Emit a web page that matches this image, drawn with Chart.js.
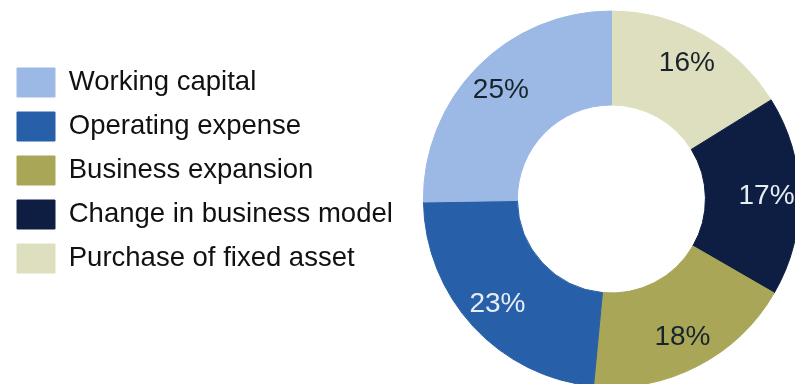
<!DOCTYPE html>
<html>
<head>
<meta charset="utf-8">
<title>Use of funds</title>
<script src="https://cdn.jsdelivr.net/npm/chart.js@4/dist/chart.umd.min.js"></script>
<style>
  html, body { margin: 0; padding: 0; background: #fff; overflow: hidden; }
  body { width: 795px; height: 384px; position: relative; }
  #funds { position: absolute; left: 0; top: 0; }
</style>
</head>
<body>
<canvas id="funds" width="830" height="384"></canvas>
<script>
/* global Chart */

// legend order, top to bottom
const categories = ['Working capital', 'Operating expense', 'Business expansion', 'Change in business model', 'Purchase of fixed asset'];
const shares = [25, 23, 18, 17, 16];
const sliceColors = ['#9cb9e5', '#275fa8', '#aaa657', '#0e1e42', '#dedfbe'];
const valueColors = ['#17242c', '#e6edf5', '#17242c', '#e6edf5', '#17242c'];

const FONT = "'Liberation Sans', Arial, sans-serif";

// slices run counter-clockwise from 12 o'clock, so feed them reversed
// and flip the legend back
const rev = function (arr) { return arr.slice().reverse(); };

const sliceLabels = {
  id: 'sliceLabels',
  afterDatasetsDraw: function (chart) {
    const ctx = chart.ctx;
    const meta = chart.getDatasetMeta(0);
    const values = chart.data.datasets[0].data;
    const colors = chart.data.datasets[0].labelColors;
    ctx.save();
    ctx.font = '28px ' + FONT;
    ctx.textAlign = 'center';
    ctx.textBaseline = 'middle';
    meta.data.forEach(function (arc, i) {
      const p = arc.getProps(['x', 'y', 'startAngle', 'endAngle', 'innerRadius', 'outerRadius'], true);
      const mid = (p.startAngle + p.endAngle) / 2;
      const r = p.innerRadius + (p.outerRadius - p.innerRadius) * 0.65;
      ctx.fillStyle = colors[i];
      ctx.fillText(values[i] + '%', p.x + Math.cos(mid) * r, p.y + Math.sin(mid) * r);
    });
    ctx.restore();
  }
};

new Chart(document.getElementById('funds'), {
  type: 'doughnut',
  data: {
    labels: rev(categories),
    datasets: [{
      data: rev(shares),
      backgroundColor: rev(sliceColors),
      borderColor: rev(sliceColors),
      borderWidth: 1,
      labelColors: rev(valueColors),
      radius: 188,
      cutout: '50%',
      clip: false
    }]
  },
  options: {
    responsive: false,
    animation: false,
    layout: {
      padding: { left: 2, top: 53, bottom: 39, right: 10 }
    },
    plugins: {
      tooltip: { enabled: false },
      legend: {
        position: 'left',
        align: 'start',
        reverse: true,
        labels: {
          boxWidth: 38,
          boxHeight: 29,
          padding: 15,
          color: '#111',
          font: { family: FONT, size: 27.5 }
        }
      }
    }
  },
  plugins: [sliceLabels]
});
</script>
</body>
</html>
